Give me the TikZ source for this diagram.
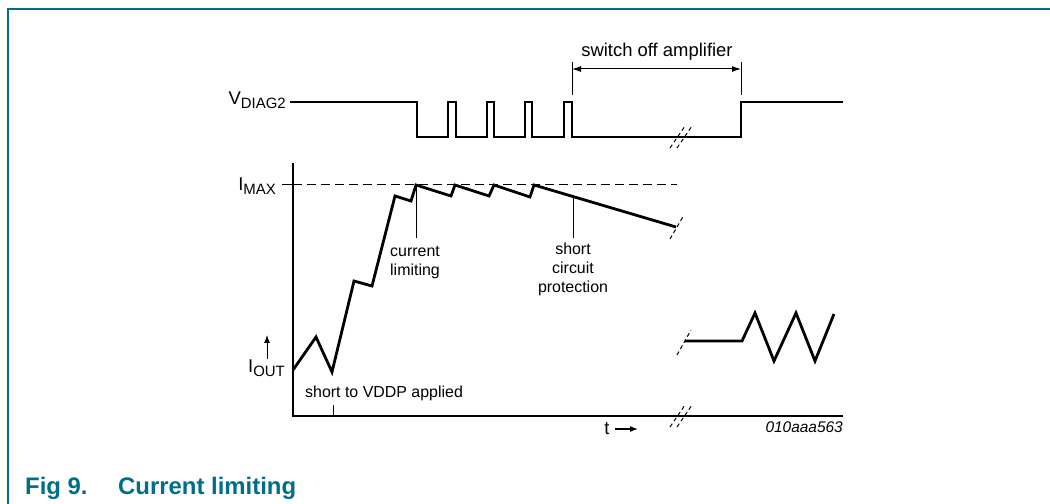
\documentclass[tikz,border=0pt]{standalone}
\usepackage{fontspec}
\setmainfont{Liberation Sans}
\usetikzlibrary{arrows.meta}
\definecolor{nxp}{RGB}{0,110,135}
\newcommand{\mysub}[2][15]{\raisebox{-3.5bp}{\fontsize{#1}{#1}\selectfont #2}}
\begin{document}
\begin{tikzpicture}[x=1bp,y=-1bp,
  wave/.style={line width=2.8bp, line join=miter, line cap=butt},
  axis/.style={line width=1.6bp},
  fine/.style={line width=1bp},
  brk/.style={line width=1bp, dash pattern=on 4bp off 3bp},
  lbl/.style={font=\fontsize{16}{19}\selectfont, inner sep=0pt},
  big/.style={font=\fontsize{18.5}{21}\selectfont, inner sep=0pt},
  tip/.style={-{Latex[length=8bp,width=6bp]}}]
\useasboundingbox (0,0) rectangle (1050,504);
\draw[nxp, line width=2bp] (8,504) -- (8,9) -- (1050,9);

% V_DIAG2 waveform
\draw[wave] (290,102) -- (417,102) -- (417,137) -- (448,137) -- (448,102) -- (456,102) -- (456,137)
  -- (487,137) -- (487,102) -- (494,102) -- (494,137) -- (525,137) -- (525,102) -- (532,102)
  -- (532,137) -- (564,137) -- (564,102) -- (572,102) -- (572,137) -- (741,137) -- (741,102) -- (843,102);
\node[big, anchor=base east] (vdiag) at (286,105) {V\mysub{DIAG2}};
\draw[brk] (670,148) -- (685,126);
\draw[brk] (677,148) -- (692,126);

% switch off amplifier
\coordinate (sa) at (572,62);
\coordinate (sb) at (741,62);
\draw[fine] (sa) -- (572,95);
\draw[fine] (sb) -- (741,95);
\draw[fine, {Latex[length=9bp,width=6bp]}-{Latex[length=9bp,width=6bp]}] (572,69) -- (741,69);
\node[big] (sw) at (657,52) {switch off amplifier};

% axes
\draw[axis] (293,163) -- (293,416) -- (843,416);
\draw[brk] (670,427) -- (685,405);
\draw[brk] (677,427) -- (692,405);
\draw[fine] (282,185) -- (293,185);
\draw[fine, dash pattern=on 9bp off 5bp] (293,185) -- (677,185);
\node[big, anchor=base east] (imax) at (276,191) {I\mysub{MAX}};
\node[big, anchor=base east] (iout) at (285,373) {I\mysub{OUT}};
\draw[fine, tip] (267,359) -- (267,335);
\node[big, anchor=base] (t) at (607,434) {t};
\draw[line width=1.3bp, tip] (615,429) -- (638,429);
\node[font=\itshape\fontsize{15.5}{18}\selectfont, inner sep=0pt, anchor=base east] (code) at (843,432) {010aaa563};

% current waveform
\draw[wave] (293,370) -- (316,337) -- (332,372) -- (354,281) -- (372,286) -- (395,196) -- (411,201)
  -- (416,185) -- (451,196) -- (455,185) -- (489,196) -- (494,185) -- (530,197) -- (534,185) -- (676,227);
\draw[brk] (670,239) -- (684,215);
\draw[brk] (677,355) -- (691,330);
\draw[wave] (685,341) -- (742,341) -- (755,313) -- (774,361) -- (796,313) -- (815,361) -- (834,314);

% callouts
\coordinate (cl) at (416,185);
\coordinate (sc) at (573,197);
\draw[fine] (cl) -- (416,238);
\draw[fine] (sc) -- (573,238);
\node[lbl, align=center, anchor=north] (clt) at (415,246) {current\\limiting};
\node[lbl, align=center, anchor=north] (sct) at (573,243) {short\\circuit\\protection};
\node[lbl, anchor=west] (sh) at (305,393) {short to VDDP applied};
\draw[fine] (333,405) -- (333,416);

% caption
\node[font=\bfseries\fontsize{24}{27}\selectfont, text=nxp, inner sep=0pt, anchor=base west] (fig) at (25,494) {Fig 9.};
\node[font=\bfseries\fontsize{24}{27}\selectfont, text=nxp, inner sep=0pt, anchor=base west] (cap) at (118,494) {Current limiting};
\end{tikzpicture}
\end{document}
